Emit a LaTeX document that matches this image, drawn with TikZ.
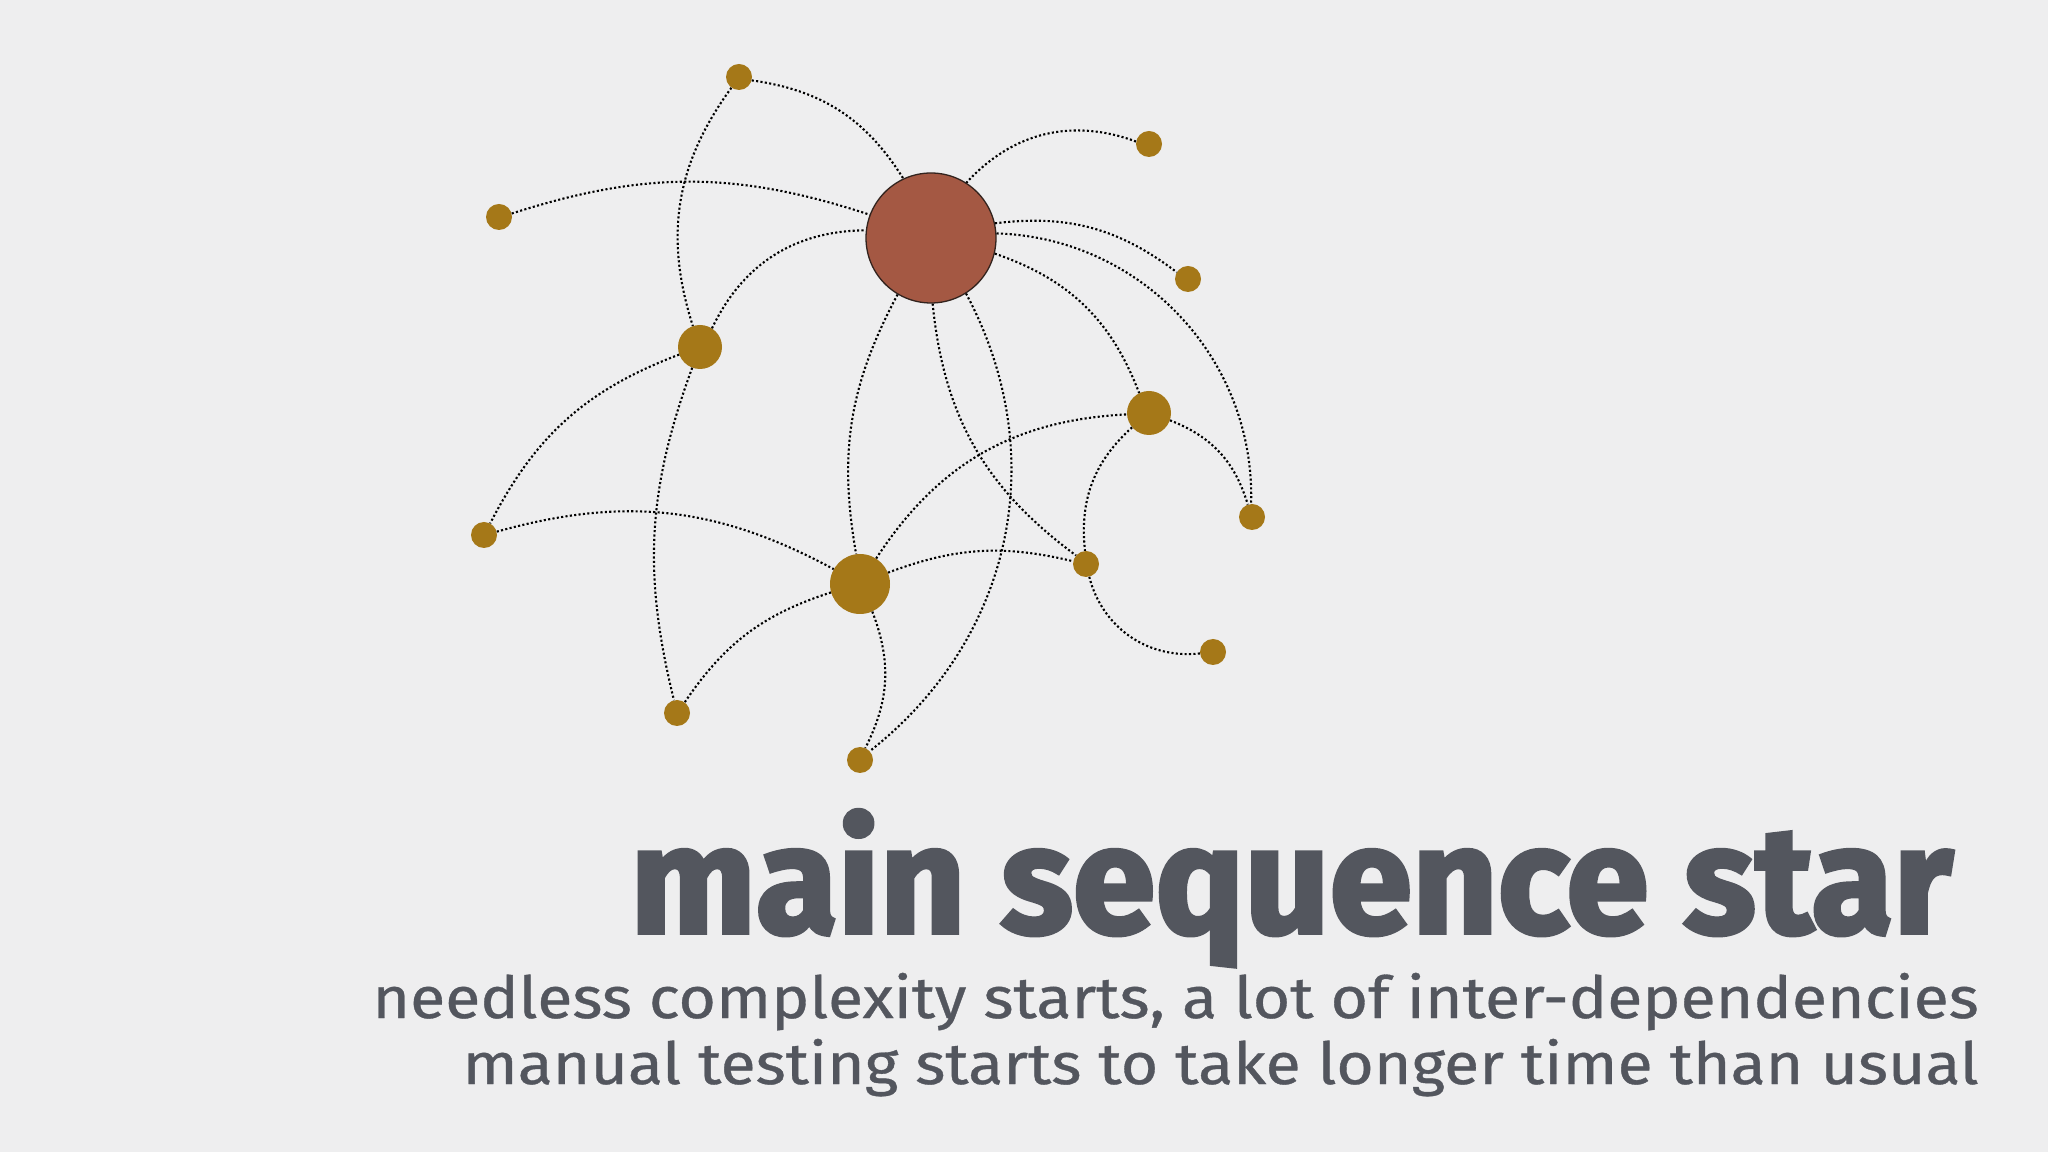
\documentclass[tikz,border=0pt]{standalone}
\usepackage{fontspec}
\setmainfont{Fira Sans}
\newfontfamily\titlefont[FakeStretch=0.98, BoldFeatures={FakeStretch=0.98,FakeBold=2.5}]{Fira Sans}
\newfontfamily\subfont[FakeStretch=1.11, FakeBold=0.6]{Fira Sans}
\definecolor{bg}{RGB}{238,238,239}
\definecolor{txt}{RGB}{83,86,94}
\definecolor{redstar}{RGB}{164,88,67}
\definecolor{gold}{RGB}{165,120,24}
\definecolor{rim}{RGB}{50,35,30}
\tikzset{
  dot/.style={circle, fill=gold, draw=none, inner sep=0pt, minimum size=26pt},
  midstar/.style={circle, fill=gold, draw=none, inner sep=0pt, minimum size=44pt},
  bigstar/.style={circle, fill=gold, draw=none, inner sep=0pt, minimum size=60pt},
  mainstar/.style={circle, fill=redstar, draw=rim, line width=1.3pt, inner sep=0pt, minimum size=130pt},
  link/.style={draw=black, line width=2.1pt, dash pattern=on 2.1pt off 2.3pt},
  title/.style={text=txt, inner sep=0pt, font=\titlefont\bfseries\fontsize{152}{160}\selectfont},
  sub/.style={text=txt, inner sep=0pt, font=\subfont\fontsize{58}{66}\selectfont}
}
\begin{document}
\begin{tikzpicture}[x=1pt,y=1pt]
\fill[bg] (0,0) rectangle (2048,1152);
\useasboundingbox (0,0) rectangle (2048,1152);
% nodes
\node[mainstar] (R) at (931,914) {};
\node[dot] (n1) at (739,1075) {};
\node[dot] (n2) at (1149,1008) {};
\node[dot] (n3) at (499,935) {};
\node[dot] (n4) at (1188,873) {};
\node[midstar] (n5) at (700,805) {};
\node[midstar] (n6) at (1149,739) {};
\node[dot] (n7) at (1252,635) {};
\node[dot] (n8) at (484,617) {};
\node[bigstar] (n9) at (860,568) {};
\node[dot] (n10) at (1086,588) {};
\node[dot] (n11) at (1213,500) {};
\node[dot] (n12) at (677,439) {};
\node[dot] (n13) at (860,392) {};
% links
\draw[link] (n1) to[bend left=25] (R);
\draw[link] (n1) to[bend right=27] (n5);
\draw[link] (n2) to[bend right=34] (R);
\draw[link] (n3) to[bend left=18] (R);
\draw[link] (R) to[bend left=22] (n4);
\draw[link] (R) to[bend left=45] (n7);
\draw[link] (R) to[bend left=25] (n6);
\draw[link] (n5) to[bend left=32] (R);
\draw[link] (R) to[bend right=19] (n9);
\draw[link] (R) to[bend right=24] (n10);
\draw[link] (R) to[bend left=40] (n13);
\draw[link] (n5) to[bend right=21] (n8);
\draw[link] (n5) to[bend right=17] (n12);
\draw[link] (n8) to[bend left=22] (n9);
\draw[link] (n9) to[bend left=27] (n6);
\draw[link] (n9) to[bend left=17] (n10);
\draw[link] (n9) to[bend right=19] (n12);
\draw[link] (n9) to[bend left=24] (n13);
\draw[link] (n6) to[bend left=26] (n7);
\draw[link] (n6) to[bend right=27] (n10);
\draw[link] (n10) to[bend right=41] (n11);
% text
\node[title, anchor=base east] (t) at (1953,219) {main sequence star};
\node[sub, anchor=base east] (s1) at (1979,134) {needless complexity starts, a lot of inter-dependencies};
\node[sub, anchor=base east] (s2) at (1979,68) {manual testing starts to take longer time than usual};
\end{tikzpicture}
\end{document}
